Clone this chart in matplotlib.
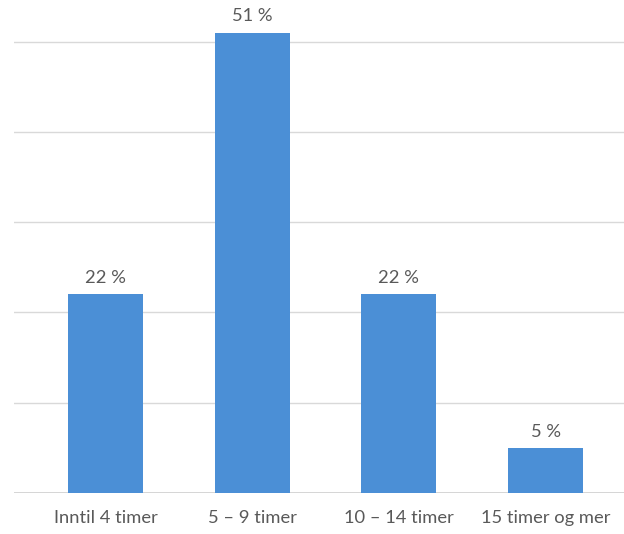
import matplotlib.pyplot as plt
import numpy as np

categories = ["Inntil 4 timer", "5 – 9 timer", "10 – 14 timer", "15 timer og mer"]
values = [22, 51, 22, 5]
gridticks = [0, 10, 20, 30, 40, 50]

plt.rcParams['font.family'] = ['Lato', 'DejaVu Sans']

fig = plt.figure(figsize=(6.24, 5.34), dpi=100)
ax = fig.add_axes([14 / 624, 1 - 493 / 534, 1 - 14 / 624, 493 / 534])

x = np.arange(len(categories))
bars = ax.bar(x, values, width=0.51, color='#4b8fd6', zorder=3)

for b, v in zip(bars, values):
    ax.annotate(f"{v} %", (b.get_x() + b.get_width() / 2, v),
                xytext=(0, 6), textcoords='offset points',
                ha='center', va='bottom', fontsize=13.2, color='#595959')

ax.set_xlim(-0.623, 3.535)
ax.set_ylim(0, 54.6)
ax.set_yticks(gridticks)
ax.yaxis.grid(True, color='#d9d9d9', linewidth=1, zorder=0)
ax.tick_params(axis='y', left=False, labelleft=False)
ax.tick_params(axis='x', bottom=False, pad=9, labelsize=13.2, labelcolor='#595959')
ax.set_xticks(x)
ax.set_xticklabels(categories)
for s in ax.spines.values():
    s.set_visible(False)
ax.axhline(0, color='#d0d0d0', linewidth=1.2, zorder=2)

fig.savefig("out.png", dpi=100)
